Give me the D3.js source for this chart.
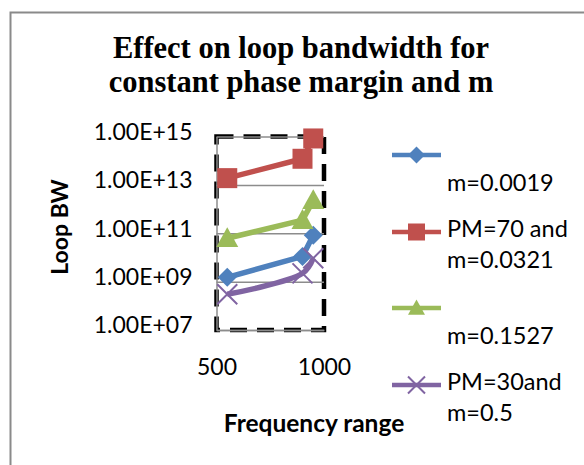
<!DOCTYPE html>
<html>
<head>
<meta charset="utf-8">
<script src="https://cdn.jsdelivr.net/npm/d3@7"></script>
<style>
  body { margin: 0; background: #fff; }
  svg { display: block; }
</style>
</head>
<body>
<svg id="chart" width="584" height="465"></svg>
<script>
// data
const freq = [550, 900, 950];
const bwM0019 = [1.5e9, 1.1e10, 8.3e10];
const bwM0321 = [1.9e13, 1.2e14, 8.3e14];
const bwM1527 = [6.2e10, 3.5e11, 2.3e12];
const bwM05 = [3.0e8, 2.2e9, 9.3e9];
const seriesNames = [
  ["", "m=0.0019"],
  ["PM=70 and", "m=0.0321"],
  ["", "m=0.1527"],
  ["PM=30and", "m=0.5"]
];
const yTickValues = [1e7, 1e9, 1e11, 1e13, 1e15];
const yTickLabels = ["1.00E+07", "1.00E+09", "1.00E+11", "1.00E+13", "1.00E+15"];
const xTickValues = [500, 1000];
const xTickLabels = ["500", "1000"];

const series = [
  { values: bwM0019, name: seriesNames[0], color: "#4F81BD", marker: "diamond", smooth: false },
  { values: bwM0321, name: seriesNames[1], color: "#C0504D", marker: "square", smooth: false },
  { values: bwM1527, name: seriesNames[2], color: "#9BBB59", marker: "triangle", smooth: false },
  { values: bwM05, name: seriesNames[3], color: "#8064A2", marker: "x", smooth: true }
];

const svg = d3.select("#chart");
const font = "Lato, 'Open Sans', sans-serif";

// outer chart border (runs off the right and bottom)
svg.append("rect")
  .attr("x", 10.5).attr("y", 12.5)
  .attr("width", 640).attr("height", 520)
  .attr("fill", "none")
  .attr("stroke", "#8a8a8a")
  .attr("stroke-width", 2);

// title
const title = svg.append("text")
  .attr("text-anchor", "middle")
  .attr("font-family", "'Liberation Serif', 'Times New Roman', serif")
  .attr("font-weight", "bold")
  .attr("font-size", 30.5);
title.append("tspan").attr("x", 301).attr("y", 58).text("Effect on loop bandwidth for");
title.append("tspan").attr("x", 301).attr("y", 92).text("constant phase margin and m");

const plot = { left: 216.5, right: 324, top: 136.5, bottom: 330 };

const x = d3.scaleLinear().domain([500, 1000]).range([plot.left, plot.right]);
const y = d3.scaleLog().domain([1e7, 1e15]).range([plot.bottom, plot.top]);

// dashed plot-area border
svg.append("rect")
  .attr("x", plot.left).attr("y", plot.top)
  .attr("width", plot.right - plot.left)
  .attr("height", plot.bottom - plot.top)
  .attr("fill", "none")
  .attr("stroke", "#000")
  .attr("stroke-width", 4.5)
  .attr("stroke-dasharray", "17,10");

// gridlines
const grid = svg.append("g")
  .attr("transform", `translate(${plot.left},0)`)
  .call(d3.axisLeft(y).tickValues(yTickValues).tickSize(-(plot.right - plot.left)).tickFormat(""));
grid.select(".domain").remove();
grid.selectAll(".tick line").attr("stroke", "#8c8c8c").attr("stroke-width", 1.5);

// y axis
const yAxis = svg.append("g")
  .attr("transform", `translate(${plot.left},0)`)
  .call(d3.axisLeft(y).tickValues(yTickValues).tickSize(0).tickPadding(24)
    .tickFormat((d, i) => yTickLabels[i]));
yAxis.select(".domain").attr("stroke", "#8c8c8c").attr("stroke-width", 1.5);
yAxis.selectAll("text")
  .attr("font-family", font).attr("font-size", 23).attr("fill", "#000")
  .attr("dy", "0.12em");

// x axis
const xAxis = svg.append("g")
  .attr("transform", `translate(0,${plot.bottom})`)
  .call(d3.axisBottom(x).tickValues(xTickValues).tickSize(0).tickPadding(29)
    .tickFormat((d, i) => xTickLabels[i]));
xAxis.select(".domain").attr("stroke", "#8c8c8c").attr("stroke-width", 1.5);
xAxis.selectAll("text")
  .attr("font-family", font).attr("font-size", 23).attr("fill", "#000");

// axis titles
svg.append("text")
  .attr("transform", "translate(68,227) rotate(-90)")
  .attr("text-anchor", "middle")
  .attr("font-family", font).attr("font-weight", "bold").attr("font-size", 23)
  .text("Loop BW");

svg.append("text")
  .attr("x", 314).attr("y", 432)
  .attr("text-anchor", "middle")
  .attr("font-family", font).attr("font-weight", "bold").attr("font-size", 24.5)
  .text("Frequency range");

// markers
function drawMarker(sel, type, color, s) {
  if (type === "diamond") {
    sel.append("path")
      .attr("d", `M0,${-s}L${s},0L0,${s}L${-s},0Z`)
      .attr("fill", color);
  } else if (type === "square") {
    sel.append("rect")
      .attr("x", -s).attr("y", -s).attr("width", 2 * s).attr("height", 2 * s)
      .attr("fill", color);
  } else if (type === "triangle") {
    sel.append("path")
      .attr("d", `M0,${-s}L${s},${s * 0.8}L${-s},${s * 0.8}Z`)
      .attr("fill", color);
  } else {
    sel.append("path")
      .attr("d", `M${-s},${-s}L${s},${s}M${s},${-s}L${-s},${s}`)
      .attr("stroke", color).attr("stroke-width", 2).attr("fill", "none");
  }
}

const markerSize = { diamond: 9.5, square: 10, triangle: 11, x: 10 };

series.forEach(sr => {
  const pts = sr.values.map((v, i) => [freq[i], v]);
  const line = d3.line()
    .x(d => x(d[0])).y(d => y(d[1]))
    .curve(sr.smooth ? d3.curveCatmullRom.alpha(0.5) : d3.curveLinear);
  svg.append("path")
    .datum(pts)
    .attr("d", line)
    .attr("fill", "none")
    .attr("stroke", sr.color)
    .attr("stroke-width", 5.5)
    .attr("stroke-linejoin", "round");
  svg.append("g").selectAll("g")
    .data(pts)
    .join("g")
    .attr("transform", d => `translate(${x(d[0])},${y(d[1])})`)
    .each(function () { drawMarker(d3.select(this), sr.marker, sr.color, markerSize[sr.marker]); });
});

// legend
const legendBase = [160, 237, 313, 390];
const legend = svg.append("g");
series.forEach((sr, i) => {
  const g = legend.append("g").attr("transform", `translate(0,${legendBase[i]})`);
  g.append("line")
    .attr("x1", 392).attr("x2", 441).attr("y1", -5).attr("y2", -5)
    .attr("stroke", sr.color).attr("stroke-width", 4.5);
  const m = g.append("g").attr("transform", "translate(416.5,-5)");
  drawMarker(m, sr.marker, sr.color, 8.5);
  sr.name.forEach((t, j) => {
    g.append("text")
      .attr("x", 447).attr("y", j * 31)
      .attr("font-family", font).attr("font-size", 23.5)
      .text(t);
  });
});
</script>
</body>
</html>
